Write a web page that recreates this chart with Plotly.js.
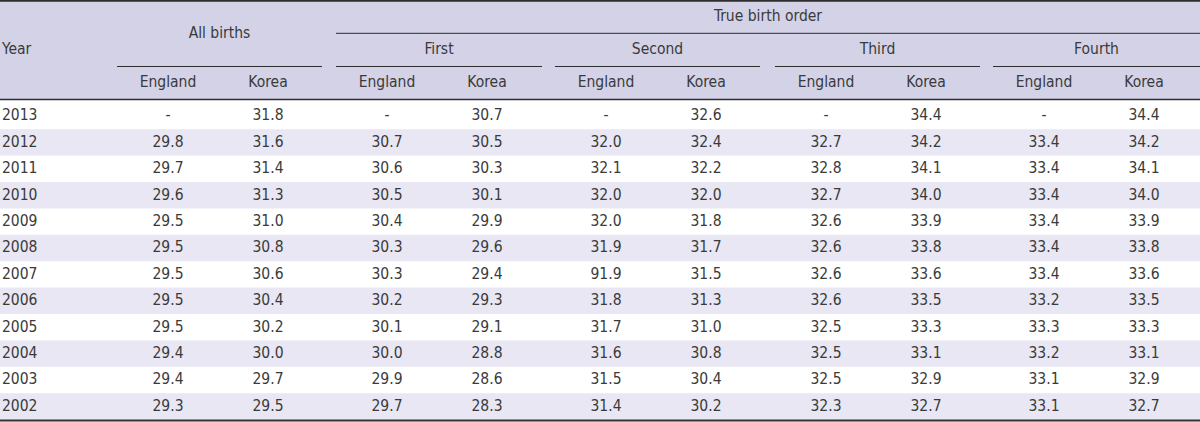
<!DOCTYPE html>
<html>
<head>
<meta charset="utf-8">
<script src="https://cdn.plot.ly/plotly-3.0.1.min.js"></script>
<style>html,body{margin:0;padding:0;background:#fff;}#chart{width:1200px;height:422px;}</style>
</head>
<body>
<div id="chart"></div>
<script>
// ---- data ----
const years = [2013, 2012, 2011, 2010, 2009, 2008, 2007, 2006, 2005, 2004, 2003, 2002];
const allEngland    = [null, 29.8, 29.7, 29.6, 29.5, 29.5, 29.5, 29.5, 29.5, 29.4, 29.4, 29.3];
const allKorea      = [31.8, 31.6, 31.4, 31.3, 31.0, 30.8, 30.6, 30.4, 30.2, 30.0, 29.7, 29.5];
const firstEngland  = [null, 30.7, 30.6, 30.5, 30.4, 30.3, 30.3, 30.2, 30.1, 30.0, 29.9, 29.7];
const firstKorea    = [30.7, 30.5, 30.3, 30.1, 29.9, 29.6, 29.4, 29.3, 29.1, 28.8, 28.6, 28.3];
const secondEngland = [null, 32.0, 32.1, 32.0, 32.0, 31.9, 91.9, 31.8, 31.7, 31.6, 31.5, 31.4];
const secondKorea   = [32.6, 32.4, 32.2, 32.0, 31.8, 31.7, 31.5, 31.3, 31.0, 30.8, 30.4, 30.2];
const thirdEngland  = [null, 32.7, 32.8, 32.7, 32.6, 32.6, 32.6, 32.6, 32.5, 32.5, 32.5, 32.3];
const thirdKorea    = [34.4, 34.2, 34.1, 34.0, 33.9, 33.8, 33.6, 33.5, 33.3, 33.1, 32.9, 32.7];
const fourthEngland = [null, 33.4, 33.4, 33.4, 33.4, 33.4, 33.4, 33.2, 33.3, 33.2, 33.1, 33.1];
const fourthKorea   = [34.4, 34.2, 34.1, 34.0, 33.9, 33.8, 33.6, 33.5, 33.3, 33.1, 32.9, 32.7];

const yearLabel = "Year";
const allLabel = "All births";
const trueLabel = "True birth order";
const groupLabels = ["First", "Second", "Third", "Fourth"];
const subLabels = ["England", "Korea"];

const columns = [allEngland, allKorea, firstEngland, firstKorea, secondEngland, secondKorea,
                 thirdEngland, thirdKorea, fourthEngland, fourthKorea];

// ---- layout constants ----
const W = 1200, H = 422;
const FONT = "'Liberation Sans Narrow', 'Arial Narrow', 'DejaVu Sans Condensed', 'Roboto Condensed', 'Liberation Sans', sans-serif";
const TXT = "#3a3a3a";
const HEAD_BG = "#d3d2e7";
const BAND_BG = "#e8e7f3";
const groupLeft = [117, 336, 555, 775, 993];
const groupRight = [322, 542, 760, 980, 1200];
const colOffset = [51, 151];
const rowCenter0 = 116.5, rowStep = 26.4;
const headerBottom = 99.5;
const fs = 15.5;

function rowY(i) { return rowCenter0 + rowStep * i; }
function colX(c) { return groupLeft[Math.floor(c / 2)] + colOffset[c % 2]; }

const shapes = [];
// header background
shapes.push({type: 'rect', xref: 'x', yref: 'y', x0: 0, x1: W, y0: 0, y1: headerBottom, fillcolor: HEAD_BG, line: {width: 0}, layer: 'below'});
// row bands
years.forEach((y, i) => {
  if (i % 2 === 1) {
    shapes.push({type: 'rect', xref: 'x', yref: 'y', x0: 0, x1: W,
      y0: rowY(i) - rowStep / 2 - 0.5, y1: Math.min(rowY(i) + rowStep / 2 - 0.5, 419.5),
      fillcolor: BAND_BG, line: {width: 0}, layer: 'below'});
  }
});
// rule lines
function hline(x0, x1, y, w) {
  shapes.push({type: 'line', xref: 'x', yref: 'y', x0: x0, x1: x1, y0: y, y1: y, line: {color: '#2e2e2e', width: w}});
}
hline(0, W, 0.8, 2);
hline(groupLeft[1], W, 33.3, 1);
groupLeft.forEach((gl, g) => hline(gl, groupRight[g], 66.5, 1));
hline(0, W, headerBottom, 1.6);
hline(0, W, 420.5, 2);

const traces = [];
function textTrace(xs, ys, texts, pos) {
  traces.push({type: 'scatter', mode: 'text', x: xs, y: ys, text: texts,
    textposition: pos || 'middle center', hoverinfo: 'skip', showlegend: false,
    textfont: {family: FONT, size: fs, color: TXT}, cliponaxis: false});
}
// header texts
textTrace([2], [50], [yearLabel], 'middle right');
textTrace([(groupLeft[0] + groupRight[0]) / 2], [34.5], [allLabel]);
textTrace([(groupLeft[1] + W) / 2], [17], [trueLabel]);
textTrace(groupLabels.map((g, k) => (groupLeft[k + 1] + groupRight[k + 1]) / 2),
          groupLabels.map(() => 50), groupLabels);
const subX = [], subY = [], subT = [];
for (let c = 0; c < columns.length; c++) { subX.push(colX(c)); subY.push(83); subT.push(subLabels[c % 2]); }
textTrace(subX, subY, subT);
// year column
textTrace(years.map(() => 2), years.map((y, i) => rowY(i)), years.map(String), 'middle right');
// data
columns.forEach((col, c) => {
  textTrace(col.map(() => colX(c)), col.map((v, i) => rowY(i)),
            col.map(v => v === null ? '-' : v.toFixed(1)));
});

const layout = {
  width: W, height: H,
  margin: {l: 0, r: 0, t: 0, b: 0, pad: 0},
  paper_bgcolor: '#ffffff', plot_bgcolor: '#ffffff',
  xaxis: {range: [0, W], visible: false, fixedrange: true},
  yaxis: {range: [H, 0], visible: false, fixedrange: true},
  shapes: shapes,
  showlegend: false
};
Plotly.newPlot('chart', traces, layout, {staticPlot: true, displayModeBar: false});
</script>
</body>
</html>
